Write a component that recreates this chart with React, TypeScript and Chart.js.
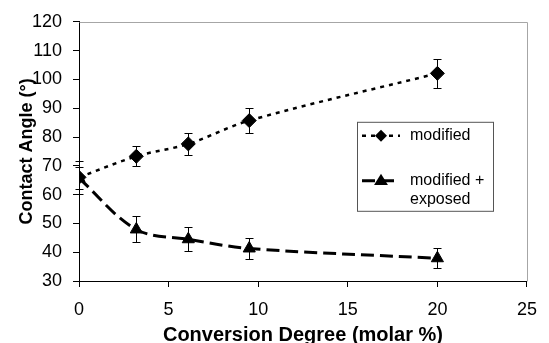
import React, { useEffect, useRef } from "react";
import { Chart, registerables } from "chart.js";

Chart.register(...registerables);

const conversion = [0, 3.2, 6.1, 9.5, 20];
const modified = [66, 73.3, 77.6, 85.7, 102.1];
const modifiedErr = [5.7, 3.5, 3.8, 4.2, 5.1];
const exposed = [65.7, 47.9, 44.5, 41.3, 37.9];
const exposedErr = [3.9, 4.5, 4.2, 3.7, 3.4];
const xTicks = [0, 5, 10, 15, 20, 25];
const yTicks = [30, 40, 50, 60, 70, 80, 90, 100, 110, 120];
const seriesLabels = [["modified"], ["modified +", "exposed"]];
const xTitle = "Conversion Degree (molar %)";
const yTitle = "Contact Angle (°)";

const FONT = "'Liberation Sans', Arial, sans-serif";

const errorBars = {
  id: "errorBars",
  afterDatasetsDraw(chart: any) {
    const { ctx } = chart;
    const xs = chart.scales.x;
    const ys = chart.scales.y;
    const sets = [
      [modified, modifiedErr],
      [exposed, exposedErr],
    ];
    ctx.save();
    ctx.strokeStyle = "#000";
    ctx.lineWidth = 1;
    sets.forEach(([vals, errs]) => {
      vals.forEach((v: number, j: number) => {
        const x = Math.round(xs.getPixelForValue(conversion[j])) + 0.5;
        const yt = Math.round(ys.getPixelForValue(v + errs[j])) + 0.5;
        const yb = Math.round(ys.getPixelForValue(v - errs[j])) + 0.5;
        ctx.beginPath();
        ctx.moveTo(x, yt);
        ctx.lineTo(x, yb);
        ctx.moveTo(x - 4, yt);
        ctx.lineTo(x + 4, yt);
        ctx.moveTo(x - 4, yb);
        ctx.lineTo(x + 4, yb);
        ctx.stroke();
      });
    });
    ctx.restore();
  },
};

const frame = {
  id: "frame",
  beforeDatasetsDraw(chart: any) {
    const { ctx, chartArea: a } = chart;
    ctx.save();
    ctx.strokeStyle = "#a6a6a6";
    ctx.lineWidth = 1;
    ctx.beginPath();
    ctx.moveTo(Math.round(a.left) + 0.5, Math.round(a.top) + 0.5);
    ctx.lineTo(Math.round(a.right) + 0.5, Math.round(a.top) + 0.5);
    ctx.lineTo(Math.round(a.right) + 0.5, Math.round(a.bottom) + 0.5);
    ctx.stroke();
    ctx.restore();
  },
};

function drawMarker(ctx: CanvasRenderingContext2D, style: string, r: number, x: number, y: number) {
  ctx.beginPath();
  if (style === "rectRot") {
    ctx.moveTo(x, y - r);
    ctx.lineTo(x + r, y);
    ctx.lineTo(x, y + r);
    ctx.lineTo(x - r, y);
  } else {
    const s = r * 1.7;
    ctx.moveTo(x, y - r);
    ctx.lineTo(x + s / 2 + 1, y + r * 0.6);
    ctx.lineTo(x - s / 2 - 1, y + r * 0.6);
  }
  ctx.closePath();
  ctx.fill();
}

const legendBox = {
  id: "legendBox",
  afterDraw(chart: any) {
    const { ctx, chartArea: a } = chart;
    const left = a.left + 278;
    const top = a.top + 100;
    const w = 136;
    const h = 89;
    ctx.save();
    ctx.fillStyle = "#fff";
    ctx.fillRect(left + 0.5, top + 0.5, w, h);
    ctx.strokeStyle = "#555";
    ctx.lineWidth = 1;
    ctx.strokeRect(left + 0.5, top + 0.5, w, h);
    const rows = [top + 14, top + 59];
    const dashes = [[4, 5], [13, 6]];
    const widths = [2.5, 3];
    const styles = ["rectRot", "triangle"];
    const radii = [6, 7];
    rows.forEach((ry, i) => {
      ctx.save();
      ctx.strokeStyle = "#000";
      ctx.lineWidth = widths[i];
      ctx.setLineDash(dashes[i]);
      ctx.beginPath();
      ctx.moveTo(left + 5, ry);
      ctx.lineTo(left + 43, ry);
      ctx.stroke();
      ctx.restore();
      ctx.fillStyle = "#000";
      drawMarker(ctx, styles[i], radii[i], left + 24, ry);
      ctx.font = `16px ${FONT}`;
      ctx.textBaseline = "middle";
      ctx.textAlign = "left";
      seriesLabels[i].forEach((t, k) => {
        ctx.fillText(t, left + 53, ry + k * 19);
      });
    });
    ctx.restore();
  },
};

export default function App() {
  const ref = useRef<HTMLCanvasElement | null>(null);
  useEffect(() => {
    if (!ref.current) return;
    const chart = new Chart(ref.current, {
      type: "line",
      data: {
        datasets: [
          {
            label: seriesLabels[0].join(" "),
            data: conversion.map((x, i) => ({ x, y: modified[i] })),
            borderColor: "#000",
            backgroundColor: "#000",
            borderWidth: 2.5,
            borderDash: [4, 5],
            tension: 0.35,
            pointStyle: "rectRot",
            pointRadius: 7,
            pointBorderWidth: 1,
            fill: false,
          },
          {
            label: seriesLabels[1].join(" "),
            data: conversion.map((x, i) => ({ x, y: exposed[i] })),
            borderColor: "#000",
            backgroundColor: "#000",
            borderWidth: 3,
            borderDash: [13, 6],
            tension: 0.35,
            pointStyle: "triangle",
            pointRadius: 7,
            pointBorderWidth: 1,
            fill: false,
          },
        ],
      },
      options: {
        animation: false,
        responsive: false,
        layout: { padding: { top: 19, right: 12, left: 0, bottom: 0 } },
        plugins: { legend: { display: false }, tooltip: { enabled: false } },
        scales: {
          x: {
            type: "linear",
            min: 0,
            max: 25,
            afterBuildTicks: (s: any) => {
              s.ticks = xTicks.map((v) => ({ value: v }));
            },
            afterFit: (s: any) => {
              s.height = 62;
            },
            grid: { drawOnChartArea: false, drawTicks: true, tickLength: 6, color: "#000" },
            border: { display: true, color: "#000", width: 1 },
            ticks: { color: "#000", font: { family: FONT, size: 18 }, padding: 12, maxRotation: 0 },
            title: {
              display: true,
              text: xTitle,
              color: "#000",
              font: { family: FONT, size: 20, weight: "bold", lineHeight: 0.8 },
              padding: { top: 0, bottom: 0 },
            },
          },
          y: {
            type: "linear",
            min: 30,
            max: 120,
            afterBuildTicks: (s: any) => {
              s.ticks = yTicks.map((v) => ({ value: v }));
            },
            afterFit: (s: any) => {
              s.width = 79;
            },
            grid: { drawOnChartArea: false, drawTicks: true, tickLength: 6, color: "#000" },
            border: { display: true, color: "#000", width: 1 },
            ticks: { color: "#000", font: { family: FONT, size: 18 }, padding: 11 },
            title: {
              display: true,
              text: yTitle,
              color: "#000",
              font: { family: FONT, size: 18, weight: "bold", lineHeight: 1.2 },
              padding: { top: 16, bottom: 0 },
            },
          },
        },
      },
      plugins: [frame, errorBars, legendBox],
    });
    return () => chart.destroy();
  }, []);
  return (
    <div style={{ position: "fixed", left: 0, top: 0 }}>
      <canvas ref={ref} width={549} height={343} style={{ width: 549, height: 343 }} />
    </div>
  );
}
